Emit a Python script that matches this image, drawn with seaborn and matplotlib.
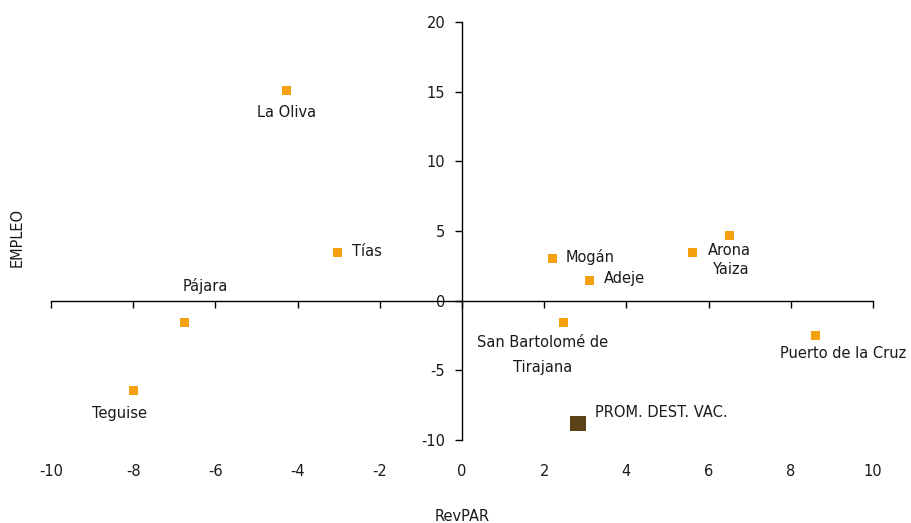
import numpy as np
import pandas as pd
import seaborn as sns
import matplotlib.pyplot as plt

# RevPAR vs EMPLEO por municipio turistico
municipios = ["La Oliva", "Tías", "Pájara", "Teguise", "Mogán", "Adeje",
              "Arona", "Yaiza", "San Bartolomé de\nTirajana", "Puerto de la Cruz"]
revpar = [-4.28, -3.02, -6.74, -8.0, 2.19, 3.11, 5.62, 6.5, 2.48, 8.61]
empleo = [15.1, 3.45, -1.55, -6.45, 3.0, 1.45, 3.45, 4.65, -1.55, -2.5]

promedio = "PROM. DEST. VAC."
prom_revpar = [2.82]
prom_empleo = [-8.8]

x_ticks = [-10, -8, -6, -4, -2, 0, 2, 4, 6, 8, 10]
y_ticks = [-10, -5, 0, 5, 10, 15, 20]

# label offsets in pixels (dx, dy, ha)
offsets = {
    "La Oliva": (0, -22, "center"),
    "Tías": (14, 1, "left"),
    "Pájara": (20, 36, "center"),
    "Teguise": (-14, -23, "center"),
    "Mogán": (14, 2, "left"),
    "Adeje": (14, 2, "left"),
    "Arona": (15, 2, "left"),
    "Yaiza": (-17, -34, "left"),
    "San Bartolomé de\nTirajana": (-21, -33, "center"),
    "Puerto de la Cruz": (-36, -18, "left"),
}

df = pd.DataFrame({"municipio": municipios, "RevPAR": revpar, "EMPLEO": empleo})

sns.set_style("white")
plt.rcParams["font.family"] = ["DejaVu Sans"]
plt.rcParams["font.size"] = 10.5
plt.rcParams["axes.unicode_minus"] = False

fig = plt.figure(figsize=(9.11, 5.23), dpi=100)
ax = fig.add_axes([51 / 911, 1 - 440 / 523, 822 / 911, 418 / 523])

sns.scatterplot(data=df, x="RevPAR", y="EMPLEO", marker="s", s=42,
                color="#F5A00F", edgecolor="none", ax=ax, zorder=3)
sns.scatterplot(x=prom_revpar, y=prom_empleo, marker="s", s=120,
                color="#5C4317", edgecolor="none", ax=ax, zorder=3)

for _, r in df.iterrows():
    dx, dy, ha = offsets[r["municipio"]]
    ax.annotate(r["municipio"], (r["RevPAR"], r["EMPLEO"]), xytext=(dx, dy),
                textcoords="offset pixels", ha=ha, va="center",
                color="#1a1a1a", linespacing=1.8, annotation_clip=False)
ax.annotate(promedio, (prom_revpar[0], prom_empleo[0]), xytext=(17, 11),
            textcoords="offset pixels", ha="left", va="center", color="#1a1a1a")

ax.set_xlim(-10, 10)
ax.set_ylim(-10, 20)
ax.set_xticks(x_ticks)
ax.set_yticks(y_ticks)

for s in ["top", "right"]:
    ax.spines[s].set_visible(False)
ax.spines["left"].set_position(("data", 0))
ax.spines["bottom"].set_position(("data", 0))
for s in ["left", "bottom"]:
    ax.spines[s].set_color("black")
    ax.spines[s].set_linewidth(1)

ax.tick_params(axis="x", direction="out", length=5, width=1, color="black",
               labelbottom=False, bottom=True)
ax.tick_params(axis="y", direction="out", length=5, width=1, color="black",
               left=True, pad=7, labelcolor="#1a1a1a")
ax.set_xlabel("")
ax.set_ylabel("")

sec = ax.secondary_xaxis("bottom")
sec.set_xticks(x_ticks)
sec.spines["bottom"].set_visible(False)
sec.tick_params(axis="x", length=0, pad=17, labelcolor="#1a1a1a")
sec.set_xlabel("RevPAR", labelpad=22, color="#1a1a1a")

fig.text(17 / 911, 1 - 237 / 523, "EMPLEO", rotation=90, ha="center",
         va="center", color="#1a1a1a")

fig.savefig("out.png", dpi=100)
